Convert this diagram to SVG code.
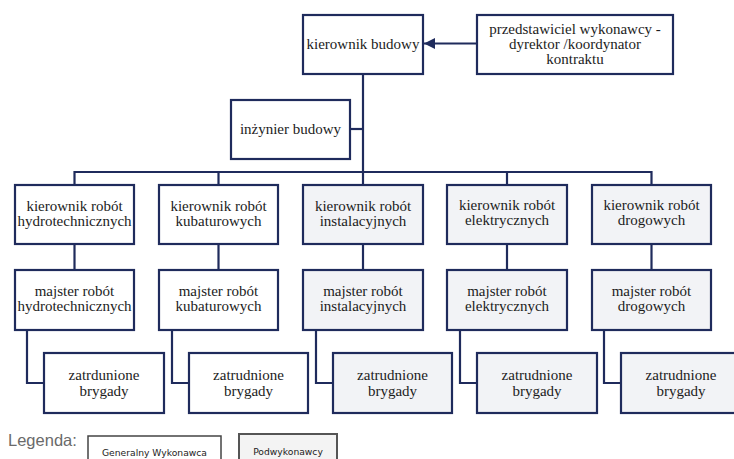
<svg xmlns="http://www.w3.org/2000/svg" width="734" height="459" viewBox="0 0 734 459">
<defs>
<style>
.gw{fill:#ffffff;stroke:#1f2b5c;stroke-width:2.2}
.pw{fill:#f2f3f6;stroke:#1f2b5c;stroke-width:2.2}
.t{font-family:'Liberation Serif',serif;font-size:15px;fill:#1c1c1c;text-anchor:middle}
.c{fill:none;stroke:#1f2b5c;stroke-width:2.2}
.lt{font-family:'DejaVu Sans',sans-serif;font-size:9.2px;fill:#1c1c1c;text-anchor:middle}
</style>
<marker id="ah" markerWidth="12" markerHeight="12" refX="11" refY="5.5" orient="auto" markerUnits="userSpaceOnUse">
<path d="M0,0 L11,5.5 L0,11 Z" fill="#1f2b5c"/>
</marker>
</defs>
<rect width="734" height="459" fill="#ffffff"/>
<g id="connectors">
<path class="c" d="M477,43.5 L424,43.5" marker-end="url(#ah)"/>
<path class="c" d="M363,74 L363,185"/>
<path class="c" d="M350,129 L363,129"/>
<path class="c" d="M74.5,185 L74.5,172 L651.5,172 L651.5,185"/>
<path class="c" d="M218.5,172 L218.5,185"/>
<path class="c" d="M507,172 L507,185"/>
<path class="c" d="M74.5,244 L74.5,270"/>
<path class="c" d="M218.5,244 L218.5,270"/>
<path class="c" d="M363,244 L363,270"/>
<path class="c" d="M507,244 L507,270"/>
<path class="c" d="M651.5,244 L651.5,270"/>
<path class="c" d="M27,330 L27,383 L44,383"/>
<path class="c" d="M172,330 L172,383 L189,383"/>
<path class="c" d="M316,330 L316,383 L333,383"/>
<path class="c" d="M460,330 L460,383 L477,383"/>
<path class="c" d="M604,330 L604,383 L621,383"/>
</g>
<g id="kierownik-budowy">
<rect class="gw" x="303" y="15" width="120" height="59"/>
<text class="t" x="363" y="49">kierownik budowy</text>
</g>
<g id="przedstawiciel">
<rect class="gw" x="477" y="15" width="196" height="59"/>
<text class="t" x="575" y="34">przedstawiciel wykonawcy -</text>
<text class="t" x="575" y="49">dyrektor /koordynator</text>
<text class="t" x="575" y="64">kontraktu</text>
</g>
<g id="inzynier-budowy">
<rect class="gw" x="231" y="100" width="119" height="59"/>
<text class="t" x="290.5" y="134">inżynier budowy</text>
</g>
<g id="kr-hydro">
<rect class="gw" x="15" y="185" width="119" height="59"/>
<text class="t" x="74.5" y="211">kierownik robót</text>
<text class="t" x="74.5" y="226">hydrotechnicznych</text>
</g>
<g id="kr-kubatur">
<rect class="gw" x="159" y="185" width="119" height="59"/>
<text class="t" x="218.5" y="211">kierownik robót</text>
<text class="t" x="218.5" y="226">kubaturowych</text>
</g>
<g id="kr-instal">
<rect class="pw" x="303" y="185" width="120" height="59"/>
<text class="t" x="363" y="211">kierownik robót</text>
<text class="t" x="363" y="226">instalacyjnych</text>
</g>
<g id="kr-elektr">
<rect class="pw" x="447" y="185" width="120" height="59"/>
<text class="t" x="507" y="210">kierownik robót</text>
<text class="t" x="507" y="225">elektrycznych</text>
</g>
<g id="kr-drog">
<rect class="pw" x="592" y="185" width="119" height="59"/>
<text class="t" x="651.5" y="210">kierownik robót</text>
<text class="t" x="651.5" y="225">drogowych</text>
</g>
<g id="mr-hydro">
<rect class="gw" x="15" y="270" width="119" height="60"/>
<text class="t" x="74.5" y="296">majster robót</text>
<text class="t" x="74.5" y="311">hydrotechnicznych</text>
</g>
<g id="mr-kubatur">
<rect class="gw" x="159" y="270" width="119" height="60"/>
<text class="t" x="218.5" y="296">majster robót</text>
<text class="t" x="218.5" y="311">kubaturowych</text>
</g>
<g id="mr-instal">
<rect class="pw" x="303" y="270" width="120" height="60"/>
<text class="t" x="363" y="296">majster robót</text>
<text class="t" x="363" y="311">instalacyjnych</text>
</g>
<g id="mr-elektr">
<rect class="pw" x="447" y="270" width="120" height="60"/>
<text class="t" x="507" y="296">majster robót</text>
<text class="t" x="507" y="311">elektrycznych</text>
</g>
<g id="mr-drog">
<rect class="pw" x="592" y="270" width="119" height="60"/>
<text class="t" x="651.5" y="296">majster robót</text>
<text class="t" x="651.5" y="311">drogowych</text>
</g>
<g id="zb-hydro">
<rect class="gw" x="44" y="353" width="120" height="60"/>
<text class="t" x="104" y="380">zatrdunione</text>
<text class="t" x="104" y="396">brygady</text>
</g>
<g id="zb-kubatur">
<rect class="gw" x="189" y="353" width="119" height="60"/>
<text class="t" x="248.5" y="380">zatrudnione</text>
<text class="t" x="248.5" y="396">brygady</text>
</g>
<g id="zb-instal">
<rect class="pw" x="333" y="353" width="119" height="60"/>
<text class="t" x="392.5" y="380">zatrudnione</text>
<text class="t" x="392.5" y="396">brygady</text>
</g>
<g id="zb-elektr">
<rect class="pw" x="477" y="353" width="120" height="60"/>
<text class="t" x="537" y="380">zatrudnione</text>
<text class="t" x="537" y="396">brygady</text>
</g>
<g id="zb-drog">
<rect class="pw" x="621" y="353" width="120" height="60"/>
<text class="t" x="681" y="380">zatrudnione</text>
<text class="t" x="681" y="396">brygady</text>
</g>
<g id="legend">
<text x="8" y="446" font-family="'Liberation Sans',sans-serif" font-size="16.5" fill="#6a6a6a">Legenda:</text>
<rect x="88" y="436" width="133" height="30" fill="#ffffff" stroke="#444444" stroke-width="1.5"/>
<text class="lt" x="154.5" y="456">Generalny Wykonawca</text>
<rect x="239" y="434" width="98" height="32" fill="#f3f3f3" stroke="#555555" stroke-width="2"/>
<text class="lt" x="288" y="455">Podwykonawcy</text>
</g>
</svg>
